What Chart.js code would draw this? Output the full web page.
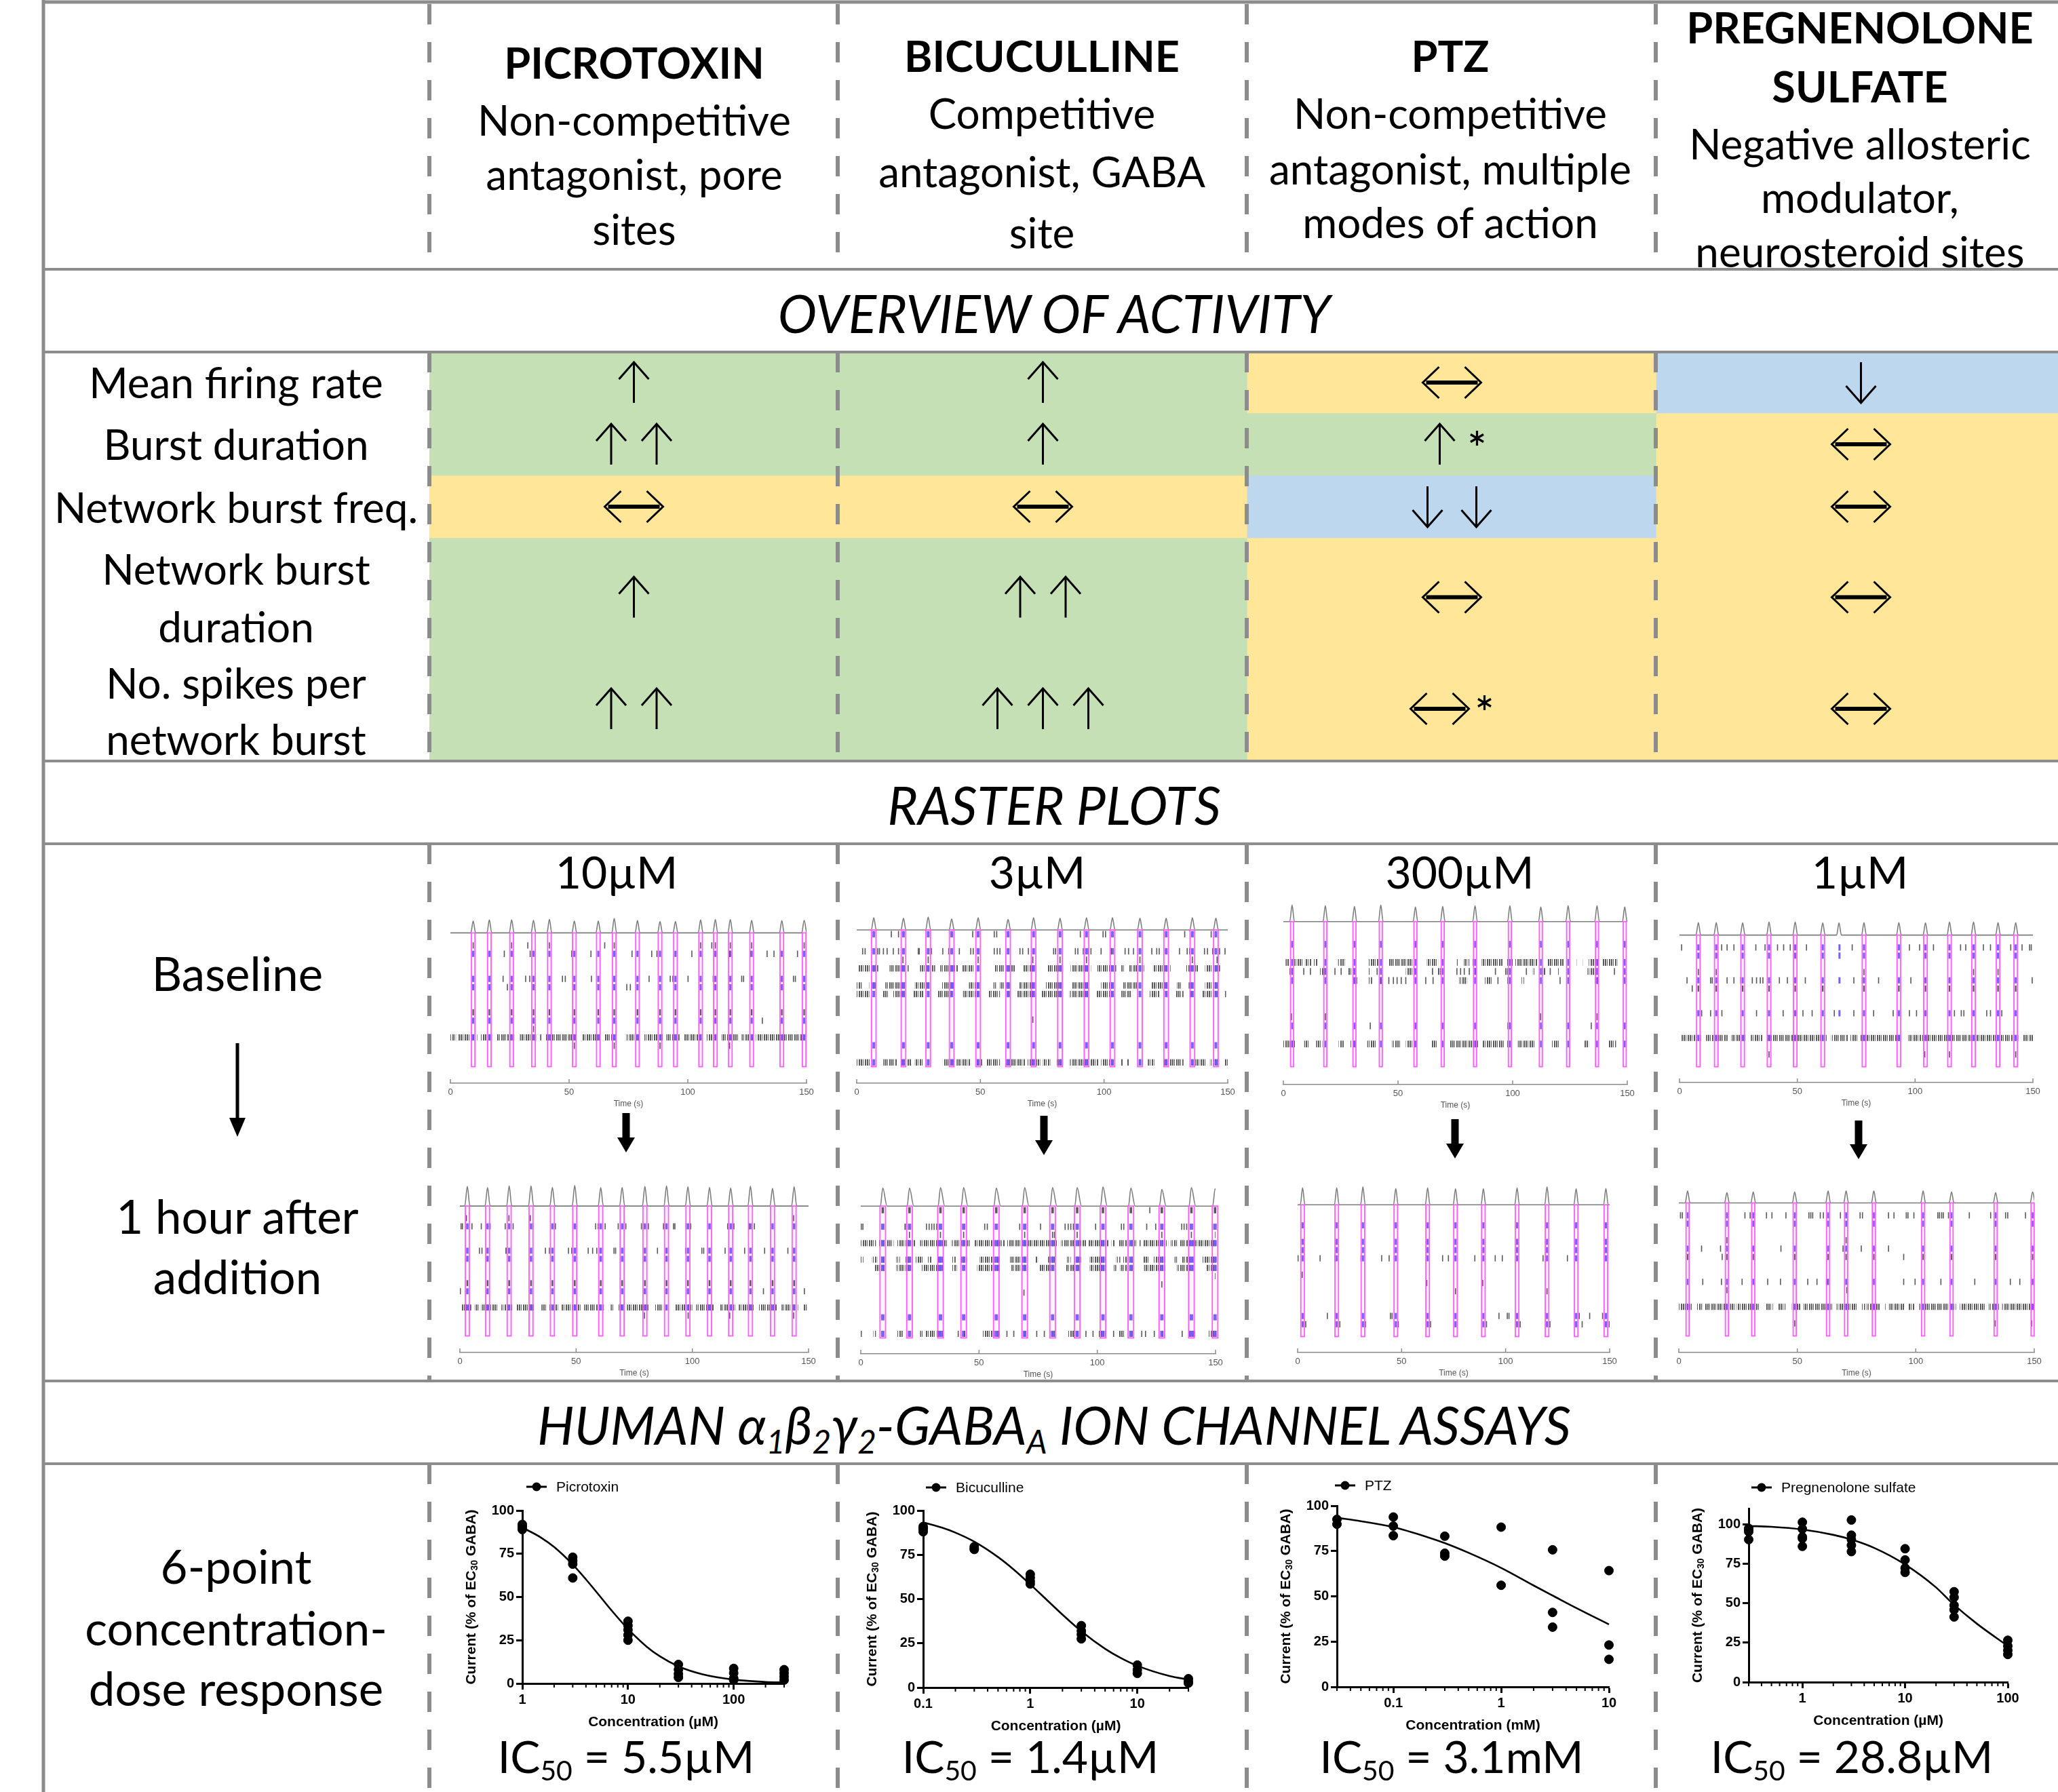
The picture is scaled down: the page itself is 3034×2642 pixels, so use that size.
<!DOCTYPE html>
<html>
<head>
<meta charset="utf-8">
<script src="https://cdn.jsdelivr.net/npm/chart.js@4.4.1/dist/chart.umd.min.js"></script>
<style>
  html, body { margin: 0; padding: 0; background: #fff; }
  body { width: 3034px; height: 2642px; position: relative; overflow: hidden;
         font-family: Lato, 'Open Sans', 'Noto Sans', sans-serif; color: #000; }
  .t { position: absolute; transform: translate(-50%, -50%); white-space: nowrap; line-height: 1; z-index: 3; }
  .t sub { font-size: 0.62em; vertical-align: -0.28em; line-height: 0; }
  canvas { position: absolute; display: block; z-index: 1; }
  #frame { position: absolute; left: 0; top: 0; z-index: 5; pointer-events: none; }
</style>
</head>
<body>
<svg id="frame" width="3034" height="2642"></svg>
<script>
// ---------------- overview of activity ----------------
const DRUGS = ['PICROTOXIN', 'BICUCULLINE', 'PTZ', 'PREGNENOLONE SULFATE'];
const METRICS = ['Mean firing rate', 'Burst duration', 'Network burst freq.', 'Network burst duration', 'No. spikes per network burst'];
const effectPicrotoxin   = ['↑', '↑↑', '↔', '↑', '↑↑'];
const effectBicuculline  = ['↑', '↑', '↔', '↑↑', '↑↑↑'];
const effectPTZ          = ['↔', '↑*', '↓↓', '↔', '↔*'];
const effectPregnenolone = ['↓', '↔', '↔', '↔', '↔'];

// ---------------- GABA-A concentration-response ----------------
const picroPoints = [[1, 92], [1, 91], [1, 90], [1, 89], [3, 73], [3, 71], [3, 69], [3, 61],
  [10, 36], [10, 33.5], [10, 31], [10, 28], [10, 25], [30, 11], [30, 8], [30, 5.5], [30, 3.5],
  [100, 8.7], [100, 6], [100, 3], [100, 2], [300, 8], [300, 6], [300, 4], [300, 2]];
const picroCurve = [[1, 90.2], [1.5, 84.4], [2, 78.9], [3, 68.8], [4, 60.2], [5.5, 50], [7, 42.2], [10, 31.5],
  [15, 21.3], [20, 15.7], [30, 9.9], [50, 5.4], [100, 2.2], [200, 0.9], [300, 0.55]];

const bicucPoints = [[0.1, 91], [0.1, 89.5], [0.1, 88], [0.1, 90], [0.3, 79.6], [0.3, 78.5], [0.3, 78],
  [1, 64], [1, 62], [1, 60], [1, 58.5], [3, 35], [3, 32], [3, 30], [3, 27.5],
  [10, 12.7], [10, 10], [10, 8], [30, 5], [30, 3.5], [30, 2.5]];
const bicucCurve = [[0.1, 93.3], [0.15, 90.3], [0.2, 87.5], [0.3, 82.4], [0.5, 73.7], [0.7, 66.7], [1, 58.3],
  [1.4, 50], [2, 41.2], [3, 31.8], [5, 21.9], [7, 16.7], [10, 12.3], [20, 6.5], [30, 4.5]];

const ptzPoints = [[0.03, 92.5], [0.03, 89.8], [0.1, 93.8], [0.1, 88.8], [0.1, 83.5], [0.3, 83.2], [0.3, 73.8],
  [0.3, 72.2], [1, 88.2], [1, 56.1], [3, 75.7], [3, 41.1], [3, 33], [10, 64.2], [10, 23.1], [10, 15.2]];
const ptzCurve = [[0.03, 93.4], [0.05, 91.5], [0.1, 88.2], [0.2, 83], [0.3, 79.4], [0.5, 74], [1, 65.7],
  [2, 56], [3.1, 50], [5, 43.5], [10, 34.5]];

const pregPoints = [[0.3, 97.4], [0.3, 96.7], [0.3, 95.3], [0.3, 90.3], [1, 101.3], [1, 97], [1, 92], [1, 91], [1, 86],
  [3, 102.7], [3, 93.1], [3, 90.3], [3, 86.7], [3, 82.7], [10, 84.5], [10, 77.4], [10, 72.3], [10, 69.5],
  [30, 57.3], [30, 53.7], [30, 48.7], [30, 45.8], [30, 41.3], [100, 26.5], [100, 22.9], [100, 20.1], [100, 17.5]];
const pregCurve = [[0.3, 98.9], [0.5, 98.4], [1, 96.7], [2, 93.3], [3, 90.3], [5, 85], [10, 74.5], [20, 60],
  [28.8, 50], [50, 37], [100, 22.9]];

// ---------------- raster plots (times in s, rows = electrodes 0..15 from top) ----------------
// Picrotoxin 10 µM, baseline
const ptxBaseBursts = [9.6, 16.4, 25.8, 35.0, 41.7, 52.2, 62.3, 69.0, 78.8, 88.3, 94.8, 105.4, 111.6, 117.9, 126.9, 139.6, 149.0];
const ptxBasePeaks = [0.82, 0.90, 0.90, 0.87, 0.94, 0.82, 0.82, 1.00, 0.85, 0.79, 0.79, 0.90, 0.93, 0.93, 0.87, 0.84, 0.87];
const ptxBaseBlueRows = [2, 5, 6, 10, 12];
const ptxBaseDarkRows = [9];
const ptxBaseLone = [
  [1, [9.6, 25.8, 32.6, 41.7, 65.0, 69.0, 105.4, 110.1, 111.6, 117.9, 126.9, 149.0]],
  [2, [22.7, 33.6, 51.1, 59.2, 76.5, 84.8, 87.0, 101.7, 117.6, 126.3, 133.4, 136.3, 146.2]],
  [5, [22.2, 31.7, 33.4, 47.2, 48.4, 59.4, 83.7, 92.6, 93.7, 100.1, 110.7, 122.7, 123.5, 144.5, 145.3]],
  [6, [24.0, 74.3, 75.8]],
  [10, [131.4]],
  [11, [35.0]],
  [13, [52.2, 69.0, 88.3, 117.6]]];
const ptxBaseDense = [
  [12, [[0, 2.0], [2.8, 11.3], [12.7, 17.5], [19.5, 26.9], [29.3, 36.1], [37.8, 38.5], [40.2, 53.1], [55.5, 63.2],
        [65.1, 70.2], [74.1, 79.5], [81.7, 89.4], [91.0, 96.5], [98.3, 106.0], [107.9, 112.3], [114.3, 121.6],
        [122.7, 127.8], [128.7, 150]]]];

// Picrotoxin, 1 h after addition
const ptxHourBursts = [3.2, 11.9, 21.2, 30.6, 39.8, 49.4, 60.6, 69.8, 79.6, 88.9, 98.1, 107.4, 116.5, 125.0, 134.5, 143.8];
const ptxHourPeaks = [0.96, 0.90, 0.98, 0.98, 0.91, 1.00, 0.90, 0.91, 0.96, 0.98, 0.94, 0.91, 0.88, 0.97, 0.86, 0.94];
const ptxHourBlueRows = [2, 5, 6, 10, 12];
const ptxHourDarkRows = [9];
const ptxHourLone = [
  [1, [2.8, 21.1, 30.3, 143.6]],
  [2, [0.5, 1.1, 5.2, 9.2, 13.0, 19.5, 22.9, 31.4, 41.1, 58.4, 59.5, 62.5, 68.1, 71.4, 78.1, 81.1, 87.6, 91.9,
       92.5, 97.3, 99.3, 115.2, 117.9, 124.4, 126.7]],
  [5, [8.4, 9.5, 19.8, 20.2, 36.8, 38.5, 46.7, 48.1, 50.3, 55.2, 57.1, 58.9, 66.3, 67.0, 85.0, 97.1, 104.1,
       104.9, 114.1, 122.5, 131.1, 141.1]],
  [10, [0.2, 130.6, 148.2]],
  [13, [79.4, 98.2, 116.1, 143.6]]];
const ptxHourDense = [
  [12, [[0.5, 4.9], [6.5, 8.1], [9.2, 16.2], [17.8, 22.7], [24.3, 31.9], [35.1, 37.3], [38.4, 42.2], [43.8, 51.9],
        [53.5, 62.2], [64.9, 66.5], [68.1, 70.3], [71.9, 81.1], [83.8, 87.6], [92.5, 100.0], [101.7, 109.2],
        [111.9, 118.4], [120.0, 126.5], [128.5, 136.3], [138.4, 145.5], [147.9, 149.2]]]];

// Bicuculline 3 µM, baseline
const bicBaseBursts = [6.9, 18.9, 28.9, 38.4, 49.1, 61.2, 71.5, 82.2, 92.9, 103.4, 114.5, 125.1, 135.7, 145.2];
const bicBasePeaks = [0.95, 0.90, 1.00, 0.86, 0.95, 0.81, 0.95, 0.90, 0.95, 0.95, 0.90, 0.90, 0.95, 0.90];
const bicBaseBlueRows = [0, 2, 4, 6, 7, 13, 15];
const bicBaseDarkRows = [];
const bicBaseLone = [
  [0, [14.0, 16.9, 46.9, 55.6, 56.6, 90.4, 99.6, 100.6, 132.6, 143.3]],
  [2, [2.4, 3.4, 8.5, 9.2, 10.8, 12.3, 14.8, 16.9, 24.9, 25.3, 30.2, 34.8, 37.2, 41.5, 46.1, 47.1, 55.6, 56.8,
       57.9, 66.0, 67.1, 69.4, 79.6, 80.4, 88.4, 89.4, 91.6, 93.7, 94.7, 98.8, 102.9, 108.5, 109.9, 111.9, 119.3,
       121.3, 122.3, 130.5, 133.6, 134.6, 140.6, 141.8, 143.9, 146.7, 148.9]],
  [3, [18.7, 28.9, 49.1, 71.2, 82.2, 92.9, 114.5, 135.7, 145.7]],
  [10, [71.2]]];
const bicBaseDense = [
  [4, [[0.5, 8.7], [13.3, 21.0], [25.6, 31.7], [33.8, 41.0], [42.5, 47.6], [55.8, 64.0], [67.1, 72.7], [77.3, 83.4],
       [86.5, 94.7], [97.3, 104.9], [107.0, 108.0], [110.1, 116.2], [119.8, 126.9], [133.1, 138.2], [140.8, 146.9]]],
  [6, [[0, 2.0], [5.1, 7.7], [11.6, 19.5], [23.5, 29.2], [34.3, 39.4], [45.4, 49.7], [55.3, 56.3], [57.9, 61.9],
       [65.8, 72.2], [76.3, 83.4], [87.0, 93.7], [98.8, 103.9], [107.8, 113.2], [119.1, 125.9], [129.5, 131.1],
       [134.2, 136.2], [140.8, 145.9]]],
  [7, [[0, 5.1], [10.2, 12.8], [14.8, 19.5], [22.5, 27.1], [32.8, 38.4], [43.0, 49.7], [53.2, 57.9], [60.9, 61.9],
       [65.0, 72.2], [74.7, 83.4], [86.0, 93.7], [96.8, 103.9], [107.0, 111.1], [118.3, 122.3], [125.4, 125.9],
       [129.0, 132.1], [134.6, 136.2], [139.8, 145.9], [148.9, 149.3]]],
  [15, [[0, 5.6], [10.8, 16.4], [17.9, 22.0], [23.5, 26.6], [34.8, 39.4], [40.4, 46.1], [48.1, 50.7], [52.2, 57.9],
        [59.9, 68.1], [69.1, 74.2], [75.3, 78.3], [80.9, 83.4], [86.0, 97.8], [98.8, 103.9], [106.5, 107.5],
        [109.0, 110.1], [113.7, 115.7], [117.7, 120.3], [123.9, 132.1], [135.2, 141.3], [142.8, 146.5], [148.9, 150]]]];

// Bicuculline, 1 h after addition
const bicHourBursts = [9.3, 20.6, 33.7, 43.5, 57.3, 69.3, 81.1, 91.5, 102.4, 114.2, 127.3, 139.8, 149.8];
const bicHourPeaks = [0.94, 0.94, 0.97, 0.97, 0.94, 0.97, 0.97, 0.97, 1.00, 0.94, 0.87, 0.97, 0.90];
const bicHourBlueRows = [2, 4, 6, 7, 13, 15];
const bicHourDarkRows = [0];
const bicHourLone = [
  [0, [122.2, 150]],
  [2, [0.2, 0.9, 18.7, 19.3, 27.8, 28.9, 30.0, 31.0, 32.1, 52.4, 53.5, 67.2, 76.0, 86.4, 87.7, 88.8, 89.9, 99.3,
       110.2, 111.2, 120.9, 124.7, 135.7, 136.7, 137.8, 148.7]],
  [3, [20.6, 33.7, 43.5, 69.3, 81.1, 81.9, 91.5, 127.3, 139.8, 150]],
  [8, [150]],
  [9, [127.3]],
  [10, [69.0]],
  [15, [0.2, 41.2, 43.9, 61.8, 64.7, 74.4, 77.6, 95.2, 98.2, 106.9, 118.8, 120.4, 124.1, 135.9]]];
const bicHourDense = [
  [4, [[0, 6.4], [7.5, 13.9], [15.2, 23.0], [25.1, 36.9], [38.3, 46.0], [48.1, 60.9], [61.8, 83.5], [84.7, 90.4],
       [92.0, 95.2], [96.1, 104.9], [106.0, 107.5], [108.9, 116.6], [117.7, 118.3], [119.3, 130.0], [131.1, 133.7],
       [134.8, 150]]],
  [6, [[0, 1.1], [4.8, 7.0], [8.0, 10.7], [15.0, 16.6], [18.7, 21.9], [23.0, 26.7], [28.3, 29.9], [32.6, 34.8],
       [38.5, 40.1], [41.7, 44.9], [50.3, 58.8], [63.1, 70.6], [73.8, 74.9], [79.2, 82.4], [87.2, 88.8], [90.4, 93.1],
       [96.8, 103.8], [108.0, 109.7], [110.7, 115.0], [119.3, 121.9], [123.6, 128.9], [132.7, 133.7], [135.9, 140.7],
       [144.4, 150]]],
  [7, [[5.9, 10.7], [15.0, 21.9], [25.7, 34.8], [38.5, 40.6], [49.2, 58.8], [63.7, 70.6], [75.4, 81.8], [86.7, 92.5],
       [96.8, 103.8], [107.0, 108.0], [109.7, 115.0], [119.8, 128.9], [133.7, 140.7], [146.0, 150]]],
  [15, [[5.3, 6.4], [15.5, 17.7], [20.9, 21.9], [25.1, 26.7], [27.3, 31.6], [32.1, 35.3], [51.4, 56.7], [57.8, 58.8],
        [68.5, 70.6], [80.2, 82.4], [87.5, 92.0], [100.6, 103.8], [109.1, 111.8], [113.4, 115.0], [126.8, 128.4],
        [138.6, 141.3], [147.1, 150]]]];

// PTZ 300 µM, baseline
const ptzBaseBursts = [3.8, 18.3, 31.0, 42.5, 57.6, 69.5, 83.6, 98.8, 112.3, 124.2, 136.8, 148.9];
const ptzBasePeaks = [1.00, 0.96, 0.92, 1.00, 0.89, 0.92, 0.96, 0.96, 0.89, 0.96, 0.96, 0.89];
const ptzBaseBlueRows = [2, 4, 5, 6, 11, 13];
const ptzBaseDarkRows = [];
const ptzBaseLone = [
  [5, [8.9, 11.8, 22.5, 25.2, 40.9, 75.7, 77.3, 78.9, 81.1, 92.5, 106.0, 116.4, 144.4]],
  [6, [42.5, 46.0, 48.0, 49.6, 51.4, 53.4, 62.1, 65.3, 93.6, 120.7]],
  [10, [3.5, 18.3, 112.2, 136.8]],
  [11, [37.9, 134.3]]];
const ptzBaseDense = [
  [4, [[1.0, 2.4], [4.6, 8.4], [9.4, 12.2], [13.2, 14.9], [23.6, 26.8], [37.1, 41.5], [45.8, 56.7], [62.6, 67.5],
       [75.7, 76.2], [78.6, 81.1], [82.5, 83.8], [86.5, 95.7], [97.4, 100.1], [101.2, 110.9], [114.8, 122.3],
       [128.0, 128.6], [130.7, 131.3], [133.2, 137.6], [139.2, 145.7]]],
  [5, [[2.6, 4.0], [16.0, 18.7], [28.4, 31.2], [37.1, 38.2], [53.4, 57.7], [64.3, 65.3], [67.0, 68.6], [83.3, 84.3],
       [96.8, 99.5], [108.8, 109.9], [113.1, 114.2], [119.6, 120.1], [132.6, 137.0]]],
  [6, [[29.7, 32.2], [37.1, 38.7], [76.7, 80.0], [87.9, 90.8], [97.7, 99.5], [103.9, 105.0], [135.9, 137.5]]],
  [11, [[97.7, 99.0]]],
  [13, [[0, 5.1], [9.1, 11.1], [14.3, 17.0], [24.1, 26.3], [29.3, 31.7], [36.6, 40.4], [47.4, 51.2], [53.4, 57.7],
        [64.8, 67.0], [72.4, 84.9], [87.0, 96.3], [97.4, 99.0], [102.3, 110.0], [116.9, 120.7], [131.0, 133.2],
        [141.9, 145.1]]]];

// PTZ, 1 h after addition
const ptzHourBursts = [2.4, 18.8, 31.4, 47.2, 62.5, 75.9, 89.3, 105.5, 119.9, 133.9, 148.2];
const ptzHourPeaks = [0.95, 0.95, 1.00, 0.91, 0.95, 0.90, 0.90, 0.95, 1.00, 0.90, 0.91];
const ptzHourBlueRows = [2, 4, 5, 6, 13, 14];
const ptzHourDarkRows = [];
const ptzHourLone = [
  [6, [0.2, 10.8, 17.9, 30.5, 40.4, 44.0, 69.7, 72.5, 85.2, 95.0, 98.4, 118.0, 129.7]],
  [8, [2.2]],
  [9, [62.1, 89.0]],
  [10, [75.9, 119.9]],
  [13, [14.3, 44.6, 45.4, 96.8, 100.8, 101.6, 135.4, 140.4, 146.6]],
  [14, [3.9, 20.3, 32.6, 48.4, 63.9, 90.8, 107.0, 121.3, 136.8, 149.8]]];
const ptzHourDense = [];

// Pregnenolone sulfate 1 µM, baseline (one network peak at 67.7 s without a detected burst)
const psBaseBursts = [8.0, 15.6, 26.8, 38.0, 49.1, 60.8, 78.3, 93.1, 104.4, 114.6, 124.8, 135.2, 142.7];
const psBasePeakTimes = [8.0, 15.6, 26.8, 38.0, 49.1, 60.8, 67.7, 78.3, 93.1, 104.4, 114.6, 124.8, 135.2, 142.7];
const psBasePeaks = [0.95, 0.95, 0.93, 1.00, 1.00, 0.93, 0.93, 0.95, 0.95, 0.93, 1.00, 1.00, 0.95, 0.95];
const psBaseBlueRows = [1, 2, 5, 9, 12];
const psBaseDarkRows = [6];
const psBaseBlueLone = [[1, [67.9]], [2, [67.9]], [5, [67.9]], [9, [67.9]]];
const psBaseLone = [
  [1, [0.9, 17.9, 20.2, 23.1, 32.4, 36.3, 41.6, 44.2, 47.0, 53.9, 73.3, 97.6, 101.9, 107.8, 119.3, 121.5, 129.0,
       132.0, 140.6, 145.4, 148.6, 149.3]],
  [4, [8.0, 15.6, 78.3, 124.8, 135.2]],
  [5, [3.2, 13.2, 13.9, 20.2, 23.1, 26.0, 30.9, 32.7, 34.3, 35.4, 42.4, 45.8, 53.4, 74.0, 77.6, 84.5, 98.2, 149.7]],
  [6, [5.4]],
  [9, [9.4, 13.2, 18.0, 32.7, 44.0, 52.4, 56.3, 65.7, 74.0, 82.4, 90.7, 97.6, 100.6, 116.7, 119.6, 120.7, 130.4,
       132.0, 136.8]],
  [14, [38.0, 104.1, 114.6, 142.7]]];
const psBaseDense = [
  [12, [[0.9, 9.1], [11.3, 20.4], [22.0, 27.9], [30.3, 35.4], [36.7, 62.8], [64.4, 71.4], [72.4, 75.6], [76.7, 93.9],
        [97.1, 102.5], [103.0, 104.1], [104.4, 143.8], [145.7, 150]]]];

// Pregnenolone sulfate, 1 h after addition
const psHourBursts = [3.7, 20.3, 31.4, 48.9, 63.0, 70.6, 82.3, 103.1, 115.1, 133.7, 149.3];
const psHourPeaks = [1.00, 0.87, 0.92, 0.92, 1.00, 1.00, 1.00, 1.00, 0.92, 0.87, 0.92];
const psHourBlueRows = [1, 2, 5, 9, 12];
const psHourDarkRows = [6];
const psHourLone = [
  [1, [0.7, 1.5, 27.9, 30.1, 37.0, 39.3, 45.2, 54.9, 55.7, 56.5, 59.7, 61.0, 68.2, 76.5, 77.5, 88.5, 90.8, 96.0,
       96.7, 99.2, 109.3, 110.0, 110.9, 111.6, 113.8, 122.6, 131.6, 137.9, 138.8, 146.3]],
  [4, [20.3, 70.6]],
  [5, [9.6, 17.6, 43.1, 69.3, 77.0, 88.5]],
  [6, [18.3, 94.9]],
  [9, [10.1, 18.0, 26.7, 37.5, 42.9, 54.4, 58.3, 62.3, 62.6, 94.9, 99.7, 110.6, 124.9, 139.9, 143.9]],
  [10, [20.3, 70.9]],
  [14, [48.9, 133.5, 148.9]]];
const psHourDense = [
  [12, [[0, 5.5], [7.7, 9.8], [10.9, 20.5], [21.6, 24.2], [24.7, 34.3], [36.7, 39.7], [41.6, 45.0], [47.7, 51.4],
        [52.7, 65.2], [66.5, 75.4], [77.0, 78.6], [79.3, 85.0], [87.1, 87.6], [88.7, 95.1], [97.0, 99.4],
        [101.5, 117.0], [118.6, 129.7], [130.8, 135.1], [136.2, 150]]]];

// ================= drawing =================
Chart.defaults.font.family = "'Liberation Sans', Arial, sans-serif";
Chart.defaults.color = '#000';

function put(html, x, y, size, extra) {
  const d = document.createElement('div');
  d.className = 't';
  d.innerHTML = html;
  d.style.left = x + 'px';
  d.style.top = y + 'px';
  d.style.fontSize = size + 'px';
  if (extra) Object.assign(d.style, extra);
  document.body.appendChild(d);
  return d;
}
const BOLD = { fontWeight: '700' };
const ITAL = { fontStyle: 'italic' };

function makeCanvas(left, top, w, h) {
  const c = document.createElement('canvas');
  c.width = w; c.height = h;
  c.style.left = left + 'px'; c.style.top = top + 'px';
  c.style.width = w + 'px'; c.style.height = h + 'px';
  document.body.appendChild(c);
  return c;
}

// ---- header ----
const colX = [935, 1536, 2138, 2742];
const HEAD = 63, DESC = 62;
put(DRUGS[0], colX[0], 91, HEAD, BOLD);
put('Non-competitive', colX[0], 176, DESC);
put('antagonist, pore', colX[0], 256, DESC);
put('sites', colX[0], 337, DESC);
put(DRUGS[1], colX[1], 81, HEAD, BOLD);
put('Competitive', colX[1], 166, DESC);
put('antagonist, GABA', colX[1], 252, DESC);
put('site', colX[1], 342, DESC);
put(DRUGS[2], colX[2], 81, HEAD, BOLD);
put('Non-competitive', colX[2], 166, DESC);
put('antagonist, multiple', colX[2], 248, DESC);
put('modes of action', colX[2], 327, DESC);
put('PREGNENOLONE', colX[3], 39, HEAD, BOLD);
put('SULFATE', colX[3], 126, HEAD, BOLD);
put('Negative allosteric', colX[3], 211, DESC);
put('modulator,', colX[3], 290, DESC);
put('neurosteroid sites', colX[3], 370, DESC);

// ---- section titles ----
put('OVERVIEW OF ACTIVITY', 1554, 461, 77, ITAL);
put('RASTER PLOTS', 1554, 1186, 77, ITAL);
put('HUMAN α<sub>1</sub>β<sub>2</sub>γ<sub>2</sub>-GABA<sub>A</sub> ION CHANNEL ASSAYS', 1554, 2100, 77, ITAL);

// ---- row labels ----
const labelX = 348, LAB = 62, SIDE = 69;
put(METRICS[0], labelX, 563, LAB);
put(METRICS[1], labelX, 654, LAB);
put(METRICS[2], labelX, 747, LAB);
put('Network burst', labelX, 838, LAB);
put('duration', labelX, 923, LAB);
put('No. spikes per', labelX, 1006, LAB);
put('network burst', labelX, 1089, LAB);

put('10µM', 909, 1285, 66);
put('3µM', 1529, 1285, 66);
put('300µM', 2152, 1285, 66);
put('1µM', 2742, 1285, 66);
put('Baseline', 350, 1434, SIDE);
put('1 hour after', 350, 1792, SIDE);
put('addition', 350, 1881, SIDE);
put('6-point', 348, 2308, SIDE);
put('concentration-', 348, 2399, SIDE);
put('dose response', 348, 2488, SIDE);

put('IC<sub>50</sub> = 5.5µM', 923, 2589, 66);
put('IC<sub>50</sub> = 1.4µM', 1519, 2589, 66);
put('IC<sub>50</sub> = 3.1mM', 2140, 2589, 66);
put('IC<sub>50</sub> = 28.8µM', 2730, 2589, 66);

// ---- activity grid (floating bars, one dataset per metric) ----
const ROW_SPAN = [90, 92, 92, 165, 164];           // table row heights in px
const rowEdge = [0];
ROW_SPAN.forEach(h => rowEdge.push(rowEdge[rowEdge.length - 1] + h));
const effectsByDrug = [effectPicrotoxin, effectBicuculline, effectPTZ, effectPregnenolone];
const TONE = { up: '#C5E0B4', flat: '#FFE699', down: '#BDD7EE' };
const toneOf = e => e.includes('↑') ? TONE.up : (e.includes('↓') ? TONE.down : TONE.flat);

function vertArrow(ctx, x, cy, dir) {
  const half = 30, hw = 22, hl = 25;
  const tip = cy + dir * half, tail = cy - dir * half;
  ctx.lineWidth = 3;
  ctx.beginPath();
  ctx.moveTo(x, tail); ctx.lineTo(x, tip);
  ctx.moveTo(x - hw, tip - dir * hl); ctx.lineTo(x, tip); ctx.lineTo(x + hw, tip - dir * hl);
  ctx.stroke();
}
function sideArrow(ctx, cx, cy) {
  const half = 43, depth = 24, hh = 23;
  ctx.lineWidth = 3;
  ctx.beginPath();
  ctx.moveTo(cx - half + depth, cy - hh); ctx.lineTo(cx - half, cy); ctx.lineTo(cx - half + depth, cy + hh);
  ctx.moveTo(cx + half - depth, cy - hh); ctx.lineTo(cx + half, cy); ctx.lineTo(cx + half - depth, cy + hh);
  ctx.stroke();
  ctx.lineWidth = 6;
  ctx.beginPath(); ctx.moveTo(cx - half + 5, cy); ctx.lineTo(cx + half - 5, cy); ctx.stroke();
}
function asterisk(ctx, x, y) {
  const r = 11;
  ctx.lineWidth = 3.2;
  ctx.beginPath();
  for (let a = 0; a < 3; a++) {
    const th = Math.PI / 2 + a * Math.PI / 3;
    ctx.moveTo(x - r * Math.cos(th), y - r * Math.sin(th));
    ctx.lineTo(x + r * Math.cos(th), y + r * Math.sin(th));
  }
  ctx.stroke();
}
function drawEffect(ctx, eff, cx, cy) {
  const star = eff.endsWith('*');
  const marks = [...eff.replace('*', '')];
  const kind = marks[0];
  const step = kind === '↓' ? 72 : 67;
  const shift = star ? -18 : 0;
  const x0 = cx + shift - step * (marks.length - 1) / 2;
  marks.forEach((m, k) => {
    const ax = x0 + k * step;
    if (m === '↔') sideArrow(ctx, ax, cy);
    else vertArrow(ctx, ax, cy, m === '↑' ? -1 : 1);
  });
  if (star) asterisk(ctx, cx + shift + (kind === '↔' ? 66 : 55), cy - 9);
}

const activityGlyphs = {
  id: 'activityGlyphs',
  afterDatasetsDraw(chart) {
    const { ctx, scales: { x, y } } = chart;
    ctx.save();
    ctx.strokeStyle = '#000';
    ctx.lineCap = 'butt';
    effectsByDrug.forEach((col, i) => col.forEach((eff, r) => {
      const cx = x.getPixelForValue(i);
      const cy = y.getPixelForValue((rowEdge[r] + rowEdge[r + 1]) / 2) + (r >= 3 ? 5 : 0);
      drawEffect(ctx, eff, cx, cy);
    }));
    ctx.restore();
  }
};

new Chart(makeCanvas(633, 519, 2412, 603), {
  type: 'bar',
  data: {
    labels: DRUGS,
    datasets: METRICS.map((m, r) => ({
      label: m,
      data: DRUGS.map(() => [rowEdge[r], rowEdge[r + 1]]),
      backgroundColor: effectsByDrug.map(col => toneOf(col[r])),
      borderWidth: 0,
      grouped: false,
      barPercentage: 1,
      categoryPercentage: 1
    }))
  },
  options: {
    responsive: false, animation: false, events: [],
    layout: { padding: 0 },
    plugins: { legend: { display: false }, tooltip: { enabled: false } },
    scales: {
      x: { type: 'category', display: false },
      y: { type: 'linear', display: false, min: 0, max: rowEdge[rowEdge.length - 1], reverse: true }
    }
  },
  plugins: [activityGlyphs]
});

// ---- raster plots ----
function stripes(ctx) {
  const c = document.createElement('canvas');
  c.width = 9; c.height = 4;
  const g = c.getContext('2d');
  g.fillStyle = 'rgba(72,72,72,0.9)';
  g.fillRect(0, 0, 2, 4); g.fillRect(3, 0, 1, 4); g.fillRect(6, 0, 2, 4);
  return ctx.createPattern(c, 'repeat');
}

function rasterPlugin(d) {
  return {
    id: 'raster',
    beforeDatasetsDraw(chart) {
      const { ctx, scales: { x, y } } = chart;
      const rowY = r => y.getPixelForValue(16 - r - 0.5);
      const rowPx = Math.abs(y.getPixelForValue(0) - y.getPixelForValue(1));
      const th = rowPx * 0.74;
      const yTop = y.getPixelForValue(16), yBot = y.getPixelForValue(0);
      ctx.save();
      ctx.fillStyle = 'rgba(255,150,255,0.10)';
      d.bursts.forEach(t => {
        const a = x.getPixelForValue(t - d.width / 2), b = x.getPixelForValue(t + d.width / 2);
        ctx.fillRect(a, yTop, b - a, yBot - yTop);
      });
      ctx.fillStyle = stripes(ctx);
      d.dense.forEach(([r, segs]) => segs.forEach(([s, e]) => {
        const a = x.getPixelForValue(s), b = x.getPixelForValue(e);
        ctx.fillRect(a, rowY(r) - th / 2, Math.max(b - a, 1.5), th);
      }));
      ctx.fillStyle = 'rgba(75,75,75,0.9)';
      d.darkRows.forEach(r => d.bursts.forEach(t => {
        const a = x.getPixelForValue(t - d.width * 0.22), b = x.getPixelForValue(t + d.width * 0.22);
        ctx.fillRect(a, rowY(r) - th / 2, Math.max(b - a, 2), th);
      }));
      ctx.fillStyle = 'rgba(108,88,252,0.92)';
      d.blueRows.forEach(r => d.bursts.forEach(t => {
        const a = x.getPixelForValue(t - d.width * 0.3), b = x.getPixelForValue(t + d.width * 0.3);
        ctx.fillRect(a, rowY(r) - th / 2, Math.max(b - a, 2), th);
      }));
      ctx.restore();
    },
    afterDatasetsDraw(chart) {
      const { ctx, scales: { x, y } } = chart;
      const yTop = y.getPixelForValue(16), yBot = y.getPixelForValue(0);
      ctx.save();
      ctx.strokeStyle = '#ff5cff';
      ctx.lineWidth = 1.8;
      d.bursts.forEach(t => {
        const a = x.getPixelForValue(t - d.width / 2), b = x.getPixelForValue(t + d.width / 2);
        ctx.strokeRect(a, yTop, b - a, yBot - yTop);
      });
      ctx.strokeStyle = '#8a8a8a';
      ctx.lineWidth = 1.5;
      [0, 50, 100, 150].forEach(v => {
        const px = x.getPixelForValue(v);
        ctx.beginPath(); ctx.moveTo(px, x.top); ctx.lineTo(px, x.top - 6); ctx.stroke();
      });
      ctx.restore();
    }
  };
}

function rasterChart(g, d) {
  const padX = 30, axisH = 42;
  const top = g.base - g.peakPx - 14;
  const canvas = makeCanvas(g.x0 - padX, top, g.x1 - g.x0 + 2 * padX, g.axis + axisH - top);
  const rowPx = (g.bot - g.base) / 16;
  const yMin = -(g.axis - g.bot) / rowPx;
  const yMax = 16 + (g.base - top) / rowPx;
  const ytMin = -(g.axis - g.base) / g.peakPx;
  const ytMax = ytMin + (g.axis - top) / g.peakPx;

  const peakTimes = d.peakTimes || d.bursts;
  let trace = [{ x: 0, y: 0 }];
  peakTimes.forEach((t, i) => {
    trace.push({ x: t - g.rise, y: 0 }, { x: t, y: d.peaks[i] }, { x: t + g.fall, y: 0 });
  });
  trace = trace.filter(p => p.x >= 0).sort((a, b) => a.x - b.x);
  if (trace[trace.length - 1].x < 150) trace.push({ x: 150, y: 0 });

  const ticksOf = list => list.flatMap(([r, ts]) => ts.map(t => ({ x: t, y: 16 - r - 0.5 })));
  const datasets = [
    { type: 'line', data: trace, yAxisID: 'yt', borderColor: '#7c7c7c', borderWidth: 1.6, pointRadius: 0,
      cubicInterpolationMode: 'monotone', fill: false },
    { type: 'scatter', data: ticksOf(d.lone), yAxisID: 'y', pointStyle: 'line', rotation: 90,
      radius: rowPx * 0.37, borderColor: 'rgba(80,80,80,0.95)', borderWidth: 1.6 }
  ];
  if (d.blueLone) datasets.push({ type: 'scatter', data: ticksOf(d.blueLone), yAxisID: 'y', pointStyle: 'line',
    rotation: 90, radius: rowPx * 0.37, borderColor: 'rgba(108,88,252,0.95)', borderWidth: 3 });

  new Chart(canvas, {
    type: 'scatter',
    data: { datasets },
    options: {
      responsive: false, animation: false, events: [],
      layout: { padding: { left: padX, right: padX, top: 0, bottom: 0 } },
      plugins: { legend: { display: false }, tooltip: { enabled: false } },
      scales: {
        x: { type: 'linear', position: 'bottom', min: 0, max: 150,
             ticks: { stepSize: 50, color: '#555', font: { size: 13 }, padding: 6, maxRotation: 0, autoSkip: false },
             grid: { display: true, drawOnChartArea: false, drawTicks: false },
             border: { display: true, color: '#8a8a8a', width: 1.6 },
             title: { display: true, text: 'Time (s)', color: '#555', font: { size: 12 }, padding: { top: 1, bottom: 4 } },
             afterFit: s => { s.height = axisH; } },
        y: { type: 'linear', display: false, min: yMin, max: yMax },
        yt: { type: 'linear', display: false, min: ytMin, max: ytMax }
      }
    },
    plugins: [rasterPlugin(d)]
  });
}

const rasterPanels = [
  [{ x0: 664, x1: 1189, base: 1370, bot: 1572, axis: 1597, peakPx: 22, rise: 1.0, fall: 1.0 },
   { bursts: ptxBaseBursts, peaks: ptxBasePeaks, width: 1.5, blueRows: ptxBaseBlueRows, darkRows: ptxBaseDarkRows,
     lone: ptxBaseLone, dense: ptxBaseDense }],
  [{ x0: 678, x1: 1192, base: 1773, bot: 1969, axis: 1994, peakPx: 31, rise: 1.1, fall: 1.1 },
   { bursts: ptxHourBursts, peaks: ptxHourPeaks, width: 1.7, blueRows: ptxHourBlueRows, darkRows: ptxHourDarkRows,
     lone: ptxHourLone, dense: ptxHourDense }],
  [{ x0: 1263, x1: 1810, base: 1365, bot: 1572, axis: 1597, peakPx: 19.5, rise: 1.0, fall: 1.0 },
   { bursts: bicBaseBursts, peaks: bicBasePeaks, width: 1.85, blueRows: bicBaseBlueRows, darkRows: bicBaseDarkRows,
     lone: bicBaseLone, dense: bicBaseDense }],
  [{ x0: 1269, x1: 1792, base: 1773, bot: 1972, axis: 1996, peakPx: 29, rise: 1.0, fall: 1.8 },
   { bursts: bicHourBursts, peaks: bicHourPeaks, width: 2.35, blueRows: bicHourBlueRows, darkRows: bicHourDarkRows,
     lone: bicHourLone, dense: bicHourDense }],
  [{ x0: 1892, x1: 2399, base: 1353, bot: 1572, axis: 1599, peakPx: 25, rise: 1.0, fall: 1.0 },
   { bursts: ptzBaseBursts, peaks: ptzBasePeaks, width: 1.3, blueRows: ptzBaseBlueRows, darkRows: ptzBaseDarkRows,
     lone: ptzBaseLone, dense: ptzBaseDense }],
  [{ x0: 1913, x1: 2373, base: 1771, bot: 1970, axis: 1994, peakPx: 27, rise: 1.1, fall: 1.1 },
   { bursts: ptzHourBursts, peaks: ptzHourPeaks, width: 1.7, blueRows: ptzHourBlueRows, darkRows: ptzHourDarkRows,
     lone: ptzHourLone, dense: ptzHourDense }],
  [{ x0: 2476, x1: 2997, base: 1372, bot: 1572, axis: 1596, peakPx: 20, rise: 1.0, fall: 1.0 },
   { bursts: psBaseBursts, peakTimes: psBasePeakTimes, peaks: psBasePeaks, width: 1.5, blueRows: psBaseBlueRows,
     darkRows: psBaseDarkRows, lone: psBaseLone, blueLone: psBaseBlueLone, dense: psBaseDense }],
  [{ x0: 2475, x1: 2999, base: 1768, bot: 1969, axis: 1994, peakPx: 18, rise: 1.0, fall: 1.0 },
   { bursts: psHourBursts, peaks: psHourPeaks, width: 1.3, blueRows: psHourBlueRows, darkRows: psHourDarkRows,
     lone: psHourLone, dense: psHourDense }]
];
rasterPanels.forEach(([g, d]) => rasterChart(g, d));

// ---- concentration-response charts ----
const isDecade = v => Math.abs(Math.log10(v) - Math.round(Math.log10(v))) < 1e-6;

function dosePlugin(g) {
  return {
    id: 'doseDecor',
    afterDraw(chart) {
      const { ctx, chartArea: a, scales: { x } } = chart;
      ctx.save();
      // minor ticks of the log axis
      ctx.strokeStyle = '#000'; ctx.lineWidth = 2;
      const e0 = Math.floor(Math.log10(g.xmin)), e1 = Math.ceil(Math.log10(g.xmax));
      for (let e = e0; e <= e1; e++) {
        for (let m = 2; m <= 9; m++) {
          const v = m * Math.pow(10, e);
          if (v < g.xmin * 0.999 || v > g.xmax * 1.001) continue;
          const px = x.getPixelForValue(v);
          ctx.beginPath(); ctx.moveTo(px, a.bottom); ctx.lineTo(px, a.bottom + 6); ctx.stroke();
        }
      }
      // axis titles
      ctx.fillStyle = '#000';
      ctx.font = "bold 21px 'Liberation Sans', Arial, sans-serif";
      ctx.textAlign = 'center'; ctx.textBaseline = 'middle';
      ctx.fillText(g.xTitle, (a.left + a.right) / 2, a.bottom + 57);
      ctx.save();
      ctx.translate(a.left - 75, (a.top + a.bottom) / 2);
      ctx.rotate(-Math.PI / 2);
      const big = "bold 21px 'Liberation Sans', Arial, sans-serif", small = "bold 14px 'Liberation Sans', Arial, sans-serif";
      const parts = [['Current (% of EC', big, 0], ['30', small, 5], [' GABA)', big, 0]];
      let total = 0;
      parts.forEach(p => { ctx.font = p[1]; total += ctx.measureText(p[0]).width; });
      let cx = -total / 2;
      ctx.textAlign = 'left';
      parts.forEach(p => { ctx.font = p[1]; ctx.fillText(p[0], cx, p[2]); cx += ctx.measureText(p[0]).width; });
      ctx.restore();
      // legend
      const lx = g.legendX - g.left, ly = g.legendY - g.top;
      ctx.lineWidth = 3;
      ctx.beginPath(); ctx.moveTo(lx - 15, ly); ctx.lineTo(lx + 15, ly); ctx.stroke();
      ctx.beginPath(); ctx.arc(lx, ly, 6.5, 0, Math.PI * 2); ctx.fill();
      ctx.font = "21px 'Liberation Sans', Arial, sans-serif";
      ctx.textAlign = 'left';
      ctx.fillText(g.name, lx + 29, ly + 1);
      ctx.restore();
    }
  };
}

function doseChart(g, points, curve) {
  const yAxisW = 135, xAxisH = 72, padR = 25;
  g.left = g.axisX - yAxisW;
  g.top = g.legendY - 30;
  const canvas = makeCanvas(g.left, g.top, g.xRight + padR - g.left, g.yZero + xAxisH - g.top);
  const axisGrid = { display: true, drawOnChartArea: false, drawTicks: true, tickLength: 9, tickWidth: 3, tickColor: '#000' };
  const tickFont = { size: 20, weight: 'bold' };
  new Chart(canvas, {
    type: 'scatter',
    data: {
      datasets: [
        { type: 'line', data: curve.map(([x, y]) => ({ x, y })), borderColor: '#000', borderWidth: 2.6,
          pointRadius: 0, cubicInterpolationMode: 'monotone', fill: false, clip: false },
        { type: 'scatter', data: points.map(([x, y]) => ({ x, y })), backgroundColor: '#000', borderColor: '#000',
          pointRadius: 6.5, clip: false }
      ]
    },
    options: {
      responsive: false, animation: false, events: [],
      layout: { padding: { left: 0, right: padR, top: g.yTopPx - g.top, bottom: 0 } },
      plugins: { legend: { display: false }, tooltip: { enabled: false } },
      scales: {
        x: { type: 'logarithmic', min: g.xmin, max: g.xmax,
             afterBuildTicks: s => { s.ticks = s.ticks.filter(t => isDecade(t.value)); },
             ticks: { color: '#000', font: tickFont, padding: 3, maxRotation: 0, autoSkip: false,
                      callback: v => String(Number(v.toPrecision(3))) },
             grid: axisGrid, border: { display: true, color: '#000', width: 3 },
             afterFit: s => { s.height = xAxisH; } },
        y: { type: 'linear', min: 0, max: g.ymax,
             ticks: { stepSize: 25, includeBounds: false, color: '#000', font: tickFont, padding: 3 },
             grid: axisGrid, border: { display: true, color: '#000', width: 3 },
             afterFit: s => { s.width = yAxisW; } }
      }
    },
    plugins: [dosePlugin(g)]
  });
}

doseChart({ axisX: 770, xRight: 1156, yTopPx: 2227, yZero: 2482, legendX: 791, legendY: 2192,
            xmin: 1, xmax: 300, ymax: 100, name: 'Picrotoxin', xTitle: 'Concentration (µM)' }, picroPoints, picroCurve);
doseChart({ axisX: 1361, xRight: 1752, yTopPx: 2227, yZero: 2488, legendX: 1380, legendY: 2193,
            xmin: 0.1, xmax: 30, ymax: 100, name: 'Bicuculline', xTitle: 'Concentration (µM)' }, bicucPoints, bicucCurve);
doseChart({ axisX: 1971, xRight: 2372, yTopPx: 2220, yZero: 2487, legendX: 1983, legendY: 2190,
            xmin: 0.03, xmax: 10, ymax: 100, name: 'PTZ', xTitle: 'Concentration (mM)' }, ptzPoints, ptzCurve);
doseChart({ axisX: 2578, xRight: 2960, yTopPx: 2224, yZero: 2480, legendX: 2597, legendY: 2193,
            xmin: 0.3, xmax: 100, ymax: 110, name: 'Pregnenolone sulfate', xTitle: 'Concentration (µM)' }, pregPoints, pregCurve);

// ---- frame: borders, separators, arrows ----
const svg = document.getElementById('frame');
function el(tag, attrs) {
  const e = document.createElementNS('http://www.w3.org/2000/svg', tag);
  Object.entries(attrs).forEach(([k, v]) => e.setAttribute(k, v));
  svg.appendChild(e);
  return e;
}
const GREY = '#8c8c8c';
el('line', { x1: 64, y1: 3, x2: 3034, y2: 3, stroke: GREY, 'stroke-width': 5 });
el('line', { x1: 64, y1: 0, x2: 64, y2: 2642, stroke: GREY, 'stroke-width': 5 });
[397, 519, 1122, 1244, 2036, 2158].forEach(y => el('line', { x1: 64, y1: y, x2: 3034, y2: y, stroke: GREY, 'stroke-width': 4 }));
[633, 1235, 1838, 2441].forEach(x => {
  [[6, 397], [519, 1122], [1244, 2036], [2158, 2642]].forEach(([a, b]) =>
    el('line', { x1: x, y1: a, x2: x, y2: b, stroke: GREY, 'stroke-width': 6, 'stroke-dasharray': '30 26' }));
});
// long arrow from baseline to post-addition
el('line', { x1: 350, y1: 1538, x2: 350, y2: 1650, stroke: '#000', 'stroke-width': 5 });
el('polygon', { points: '338,1648 362,1648 350,1676', fill: '#000' });
// arrows between raster pairs
[[923, 1641, 1699], [1539, 1645, 1703], [2145, 1650, 1708], [2740, 1652, 1709]].forEach(([x, a, b]) => {
  el('rect', { x: x - 5.5, y: a, width: 11, height: b - a - 20, fill: '#000' });
  el('polygon', { points: `${x - 13},${b - 22} ${x + 13},${b - 22} ${x},${b}`, fill: '#000' });
});
</script>
</body>
</html>
